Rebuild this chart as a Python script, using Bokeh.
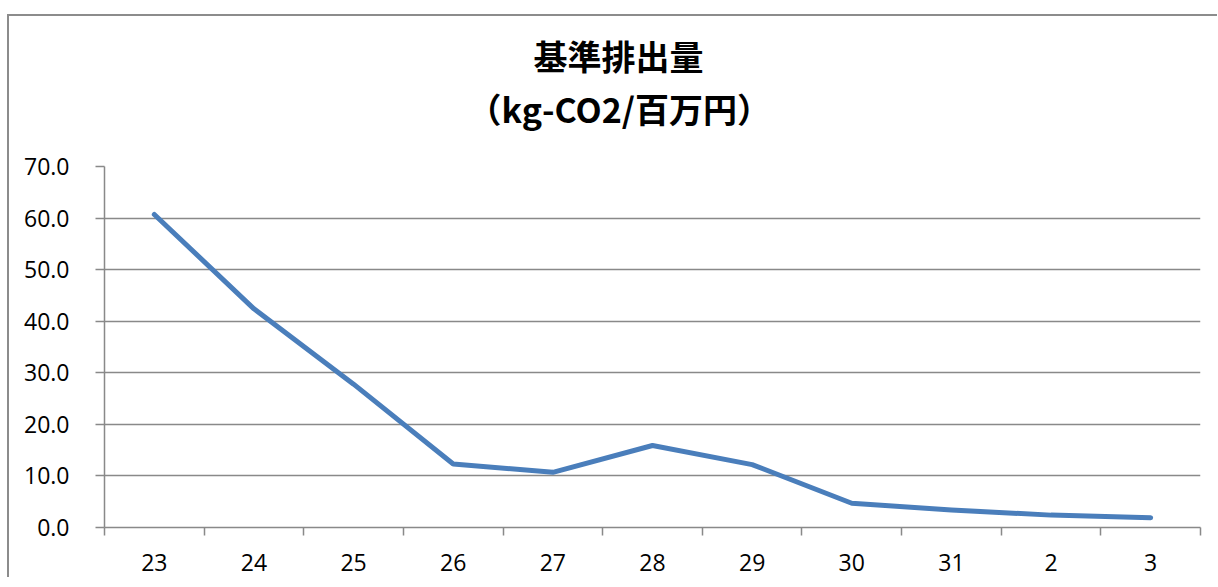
from bokeh.plotting import figure
from bokeh.models import FixedTicker, Range1d, NumeralTickFormatter, Title
from bokeh.embed import file_html
from bokeh.resources import INLINE

# ---- data ----
categories = ["23", "24", "25", "26", "27", "28", "29", "30", "31", "2", "3"]
values = [60.7, 42.4, 27.8, 12.3, 10.7, 15.9, 12.2, 4.7, 3.4, 2.4, 1.9]
y_ticks = [0, 10, 20, 30, 40, 50, 60, 70]
title_line1 = "基準排出量"
title_line2 = "（kg-CO2/百万円）"

xs = list(range(len(categories)))
GRAY = "#898989"

p = figure(title=None, frame_width=1096, frame_height=361,
           min_border_left=95, min_border_right=17,
           min_border_top=150, min_border_bottom=50,
           x_range=Range1d(-0.5, len(categories) - 0.5),
           y_range=Range1d(0, 70),
           output_backend="svg", toolbar_location=None,
           background_fill_color="white", border_fill_color="white")
p.margin = (14, 0, 0, 7)
p.styles = {"border-top": "2px solid #8c8c8c", "border-left": "2px solid #8c8c8c"}
p.outline_line_color = None

p.xaxis.ticker = FixedTicker(ticks=xs, minor_ticks=[i - 0.5 for i in range(len(categories) + 1)])
p.xaxis.major_label_overrides = {i: c for i, c in enumerate(categories)}
p.xaxis.major_tick_out = 0
p.xaxis.major_tick_in = 0
p.xaxis.minor_tick_out = 8
p.xaxis.minor_tick_in = 0
p.xaxis.minor_tick_line_color = GRAY
p.xaxis.minor_tick_line_width = 1.5
p.xaxis.axis_line_color = GRAY
p.xaxis.axis_line_width = 1.5
p.xaxis.major_label_text_font = "Open Sans"
p.xaxis.major_label_text_font_size = "23px"
p.xaxis.major_label_text_color = "black"
p.xaxis.major_label_standoff = 18
p.xgrid.visible = False

p.yaxis.ticker = FixedTicker(ticks=y_ticks, minor_ticks=[])
p.yaxis.formatter = NumeralTickFormatter(format="0.0")
p.yaxis.major_tick_out = 9
p.yaxis.major_tick_in = 0
p.yaxis.major_tick_line_color = GRAY
p.yaxis.major_tick_line_width = 1.5
p.yaxis.minor_tick_line_color = None
p.yaxis.axis_line_color = GRAY
p.yaxis.axis_line_width = 1.5
p.yaxis.major_label_text_font = "Open Sans"
p.yaxis.major_label_text_font_size = "23px"
p.yaxis.major_label_text_color = "black"
p.yaxis.major_label_standoff = 26
p.ygrid.grid_line_color = GRAY
p.ygrid.grid_line_width = 1.5

p.line(xs, values, line_color="#4A7EBB", line_width=5,
       line_cap="round", line_join="round")

t2 = Title(text=title_line2, align="left", offset=363, standoff=68,
           text_font="Noto Sans CJK JP", text_font_style="bold",
           text_font_size="34px", text_color="black")
t1 = Title(text=title_line1, align="left", offset=429, standoff=-64,
           text_font="Noto Sans CJK JP", text_font_style="bold",
           text_font_size="34px", text_color="black")
p.add_layout(t2, "above")
p.add_layout(t1, "above")

open("out.html", "w").write(file_html(p, INLINE))
